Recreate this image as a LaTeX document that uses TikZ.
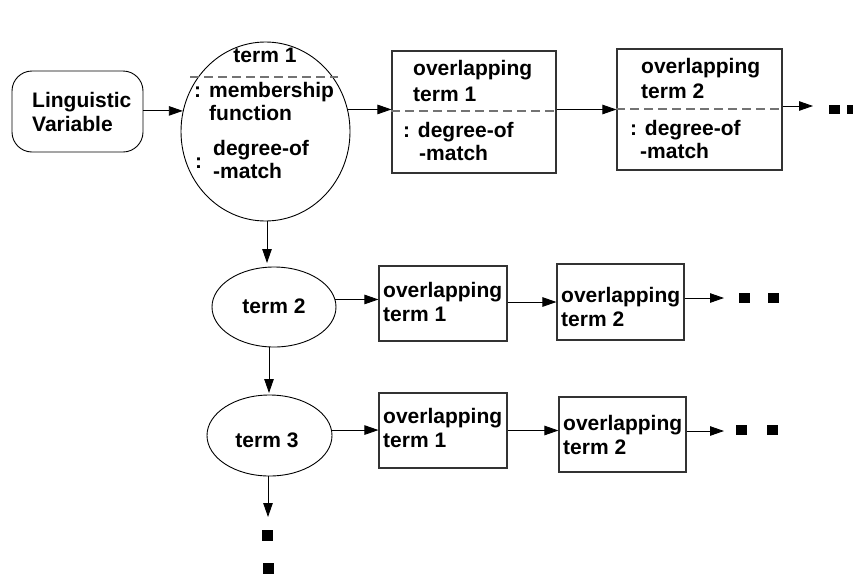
\documentclass[tikz,border=0pt]{standalone}
\usepackage{fontspec}
\setmainfont{Liberation Sans}
\usetikzlibrary{shapes.geometric,arrows.meta}
\begin{document}
\begin{tikzpicture}[x=1pt,y=-1pt,
  txt/.style={anchor=base west,inner sep=0pt,font=\fontsize{21}{24}\selectfont\bfseries},
  ctxt/.style={txt,anchor=base},
  arr/.style={-{Triangle[length=14pt,width=9.5pt]},line width=0.9pt},
  boxshape/.style={draw=black!80,line width=1.1pt,inner sep=0pt,rectangle},
  ell/.style={draw,line width=0.9pt,ellipse,inner sep=0pt},
  dsh/.style={draw=black!55,line width=1.1pt,dash pattern=on 9pt off 5pt},
  sq/.style={fill=black,inner sep=0pt,rectangle}]
\useasboundingbox (0,0) rectangle (853,576);

% shapes
\node[draw,line width=0.9pt,rectangle,rounded corners=20pt,minimum width=131pt,minimum height=81pt,inner sep=0pt] (lv) at (77.5,111.5) {};
\node[ell,minimum width=169pt,minimum height=179pt] (t1) at (265.5,131.5) {};
\node[boxshape,minimum width=164pt,minimum height=122pt] (b1) at (474,112) {};
\node[boxshape,minimum width=165pt,minimum height=121pt] (b2) at (699.5,109.5) {};

\node[ell,minimum width=124pt,minimum height=80pt] (t2) at (274,307) {};
\node[boxshape,minimum width=128pt,minimum height=75pt] (b21) at (443,303.5) {};
\node[boxshape,minimum width=127pt,minimum height=76pt] (b22) at (620.5,302) {};

\node[ell,minimum width=125pt,minimum height=81pt] (t3) at (269.5,435.5) {};
\node[boxshape,minimum width=128pt,minimum height=75pt] (b31) at (443,430.5) {};
\node[boxshape,minimum width=127pt,minimum height=75pt] (b32) at (622.5,434.5) {};

% dashed separators
\draw[dsh] (190,77) -- (338,77);
\draw[dsh] (b1.west |- 0,111) -- (b1.east |- 0,111);
\draw[dsh] (b2.west |- 0,109) -- (b2.east |- 0,109);

% dots
\node[sq,minimum width=11pt,minimum height=9pt] (d1a) at (834.5,109) {};
\node[sq,minimum width=11pt,minimum height=9pt] (d1b) at (852.5,109) {};
\node[sq,minimum width=11pt,minimum height=10pt] (d2a) at (744.5,298) {};
\node[sq,minimum width=11pt,minimum height=10pt] (d2b) at (773.5,298) {};
\node[sq,minimum width=11pt,minimum height=10pt] (d3a) at (741.5,430) {};
\node[sq,minimum width=11pt,minimum height=10pt] (d3b) at (772.5,430) {};
\node[sq,minimum width=11pt,minimum height=11pt] (d4a) at (267.5,535.5) {};
\node[sq,minimum width=11pt,minimum height=11pt] (d4b) at (268.5,568.5) {};

% texts
\node[txt] (lvA) at (32,107) {Linguistic};
\node[txt] (lvB) at (32,131) {Variable};

\node[ctxt] (t1A) at (265,62) {term 1};
\node[txt] (t1c1) at (194,97) {:};
\node[txt] (t1B) at (209,97) {membership};
\node[txt] (t1C) at (209,120) {function};
\node[txt] (t1c2) at (195,168) {:};
\node[txt] (t1D) at (213,155) {degree-of};
\node[txt] (t1E) at (213,178) {-match};

\node[txt] (b1A) at (413,75) {overlapping};
\node[txt] (b1B) at (413,101) {term 1};
\node[txt] (b1C) at (403,137) {: degree-of};
\node[txt] (b1D) at (419,160) {-match};

\node[txt] (b2A) at (641,73) {overlapping};
\node[txt] (b2B) at (641,98) {term 2};
\node[txt] (b2C) at (630,135) {: degree-of};
\node[txt] (b2D) at (640,158) {-match};

\node[ctxt] (t2A) at (274,313) {term 2};
\node[txt] (b21A) at (383,297) {overlapping};
\node[txt] (b21B) at (383,321) {term 1};
\node[txt] (b22A) at (561,302) {overlapping};
\node[txt] (b22B) at (561,326) {term 2};

\node[ctxt] (t3A) at (267,447) {term 3};
\node[txt] (b31A) at (383,423) {overlapping};
\node[txt] (b31B) at (383,447) {term 1};
\node[txt] (b32A) at (563,430) {overlapping};
\node[txt] (b32B) at (563,454) {term 2};

% connectors
\draw[arr] (lv.east |- t1.166) -- (t1.166);
\draw[arr] (t1.15) -- (t1.15 -| b1.west);
\draw[arr] (b1.east |- b2.west) -- (b2.west);
\coordinate (e1) at (813,106);
\draw[arr] (b2.east |- e1) -- (e1);

\coordinate (v1) at (267,263);
\draw[arr] (t1.south -| v1) -- (v1);
\draw[arr] (t2.7) -- (t2.7 -| b21.west);
\draw[arr] (b21.east |- b22.west) -- (b22.west);
\coordinate (e2) at (724,298);
\draw[arr] (b22.east |- e2) -- (e2);

\coordinate (v2) at (269,393);
\draw[arr] (t2.south -| v2) -- (v2);
\draw[arr] (t3.5) -- (t3.5 -| b31.west);
\draw[arr] (b31.east) -- (b31.east -| b32.west);
\coordinate (e3) at (724,431);
\draw[arr] (b32.east |- e3) -- (e3);

\coordinate (v3) at (268,517);
\draw[arr] (t3.south -| v3) -- (v3);
\end{tikzpicture}
\end{document}
